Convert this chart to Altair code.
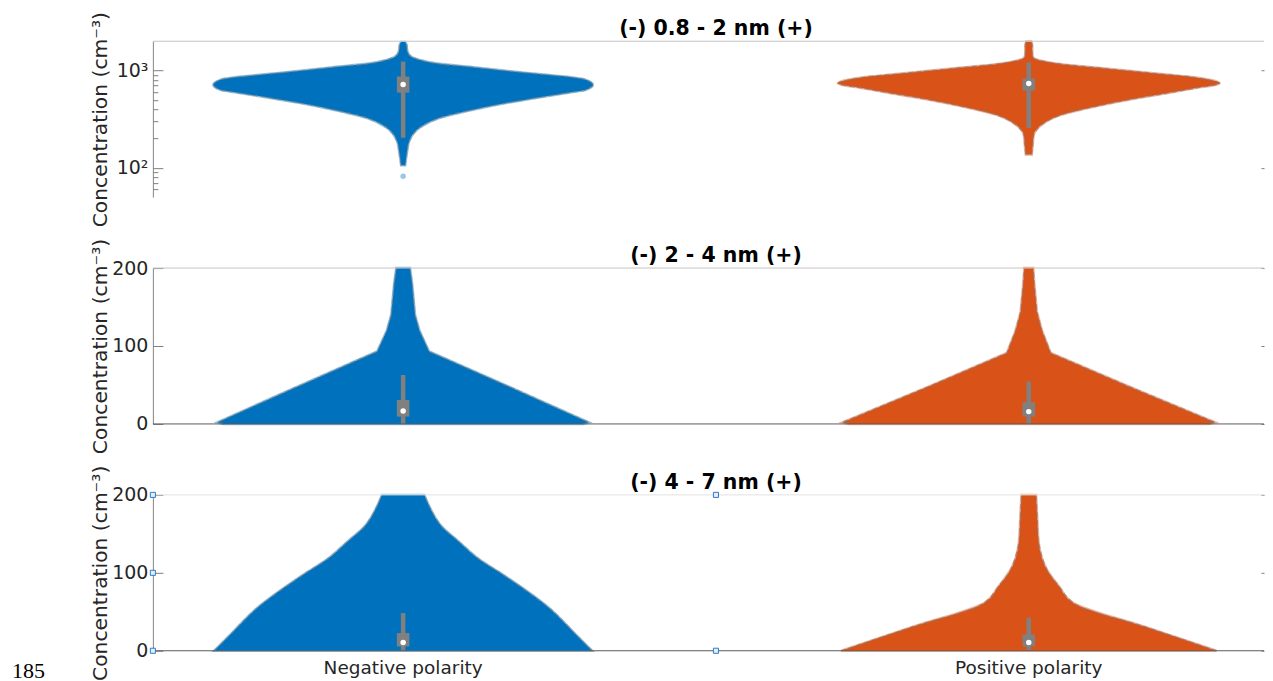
import altair as alt
import pandas as pd

# ---------------- data ----------------
GROUPS = ["Negative polarity", "Positive polarity"]
GROUP_POS = [1, 2]
GROUP_COLORS = ["#0072BD", "#D95319"]
PANEL_TITLES = ["(-) 0.8 - 2 nm (+)", "(-) 2 - 4 nm (+)", "(-) 4 - 7 nm (+)"]
Y_TITLE = "Concentration (cm⁻³)"
X_LIMITS = [0.6, 2.376]
PAGE_NUMBER = "185"

# violin outlines: concentration (cm-3) and half width (x-axis units)
p1_neg_conc = [106, 147, 187, 257, 325, 396, 463, 529, 601, 634, 714, 803, 848, 919, 993, 1083, 1171, 1287, 1448, 1630, 1833, 1968]
p1_neg_hw = [0.0032, 0.0064, 0.0096, 0.0256, 0.0575, 0.1118, 0.1645, 0.2172, 0.2715, 0.2922, 0.3034, 0.2922, 0.2715, 0.2172, 0.1645, 0.1118, 0.0575, 0.0256, 0.0096, 0.0064, 0.0056, 0.0032]
p1_pos_conc = [137, 173, 219, 278, 352, 428, 501, 573, 660, 739, 848, 919, 993, 1073, 1163, 1257, 1339, 1500, 1800, 1990]
p1_pos_hw = [0.0048, 0.0064, 0.0080, 0.0208, 0.0527, 0.1070, 0.1597, 0.2124, 0.2667, 0.3050, 0.2667, 0.2124, 0.1597, 0.1070, 0.0527, 0.0208, 0.0080, 0.0056, 0.0056, 0.0040]

p2_neg_conc = [0, 2, 44, 93, 120, 140, 180, 200]
p2_neg_hw = [0.287, 0.297, 0.180, 0.0415, 0.026, 0.019, 0.0144, 0.011]
p2_pos_conc = [0, 2, 48, 91, 120, 144, 180, 200]
p2_pos_hw = [0.287, 0.298, 0.160, 0.035, 0.021, 0.013, 0.0088, 0.0072]

p3_neg_conc = [0, 25, 53, 100, 117, 140, 160, 185, 200]
p3_neg_hw = [0.302, 0.271, 0.236, 0.155, 0.122, 0.089, 0.061, 0.042, 0.034]
p3_pos_conc = [0, 31, 61, 83, 104, 138, 170, 200]
p3_pos_hw = [0.300, 0.185, 0.072, 0.048, 0.029, 0.016, 0.0136, 0.0117]

# box statistics: [whisker low, q1, median, q3, whisker high]
p1_neg_box = [204, 593, 717, 867, 1236]
p1_pos_box = [258, 622, 735, 827, 1210]
p2_neg_box = [0, 9.4, 16.7, 30.8, 62.8]
p2_pos_box = [0, 9.4, 15.8, 27.8, 54.3]
p3_neg_box = [0, 5.5, 10.6, 22.7, 48.3]
p3_pos_box = [0, 5.5, 10.6, 20.9, 42.3]

# isolated points below the negative 0.8-2 nm violin
p1_neg_outliers = [117, 82]

# editing handles visible on the lowest axes (x, y)
handle_x = [0.6, 0.6, 0.6, 1.5, 1.5]
handle_y = [0, 100, 200, 0, 200]

# ---------------- styling ----------------
W, H = 1112, 156
FONT = "DejaVu Sans"
TXT = "#262626"
XSCALE = alt.Scale(domain=X_LIMITS, nice=False, zero=False)
COLOR = alt.Color("group:N", scale=alt.Scale(domain=GROUPS, range=GROUP_COLORS), legend=None)
STROKE = alt.Stroke("group:N", scale=alt.Scale(domain=GROUPS, range=GROUP_COLORS), legend=None)

PANELS = [
    dict(title=PANEL_TITLES[0], viol=[(p1_neg_conc, p1_neg_hw), (p1_pos_conc, p1_pos_hw)],
         box=[p1_neg_box, p1_pos_box], domain=[50, 2000], log=True, major=[100, 1000],
         minor=[60, 70, 80, 90, 200, 300, 400, 500, 600, 700, 800, 900],
         labelExpr="datum.value == 1000 ? '10³' : (datum.value == 100 ? '10²' : '')",
         xaxis=None, top_color="#c4c4c4", interp="monotone", line_interp="catmull-rom"),
    dict(title=PANEL_TITLES[1], viol=[(p2_neg_conc, p2_neg_hw), (p2_pos_conc, p2_pos_hw)],
         box=[p2_neg_box, p2_pos_box], domain=[0, 200], log=False, major=[0, 100, 200],
         minor=None, labelExpr=None, xaxis="line", top_color="#c4c4c4",
         interp="linear", line_interp="linear"),
    dict(title=PANEL_TITLES[2], viol=[(p3_neg_conc, p3_neg_hw), (p3_pos_conc, p3_pos_hw)],
         box=[p3_neg_box, p3_pos_box], domain=[0, 200], log=False, major=[0, 100, 200],
         minor=None, labelExpr=None, xaxis="labels", top_color="#e2e2e2",
         interp="monotone", line_interp="catmull-rom"),
]


def build_panel(i, p):
    if p["log"]:
        ysc = alt.Scale(type="log", domain=p["domain"], nice=False)
    else:
        ysc = alt.Scale(domain=p["domain"], nice=False, zero=False)

    rows = []
    for g, pos, (conc, hw) in zip(GROUPS, GROUP_POS, p["viol"]):
        for c, h in zip(conc, hw):
            rows.append({"group": g, "pos": pos, "conc": c, "hw": h})
    vdf = pd.DataFrame(rows)

    bdf = pd.DataFrame([
        {"group": g, "pos": pos, "lo": b[0], "q1": b[1], "med": b[2], "q3": b[3], "hi": b[4]}
        for g, pos, b in zip(GROUPS, GROUP_POS, p["box"])
    ])

    # main y axis (labels, title, left line)
    yaxis_kw = dict(orient="left", values=p["major"], ticks=False, tickSize=0, labelPadding=5,
                    domain=True, domainColor="#868686", domainWidth=1, grid=False,
                    title=Y_TITLE, titleX=-46, titleY=H / 2, titleAlign="center",
                    titleBaseline="alphabetic", labelFont=FONT, labelFontSize=19,
                    labelColor=TXT, titleFont=FONT, titleFontSize=20.3,
                    titleFontWeight="normal", titleColor=TXT)
    if p["labelExpr"]:
        yaxis_kw["labelExpr"] = p["labelExpr"]
    yaxis = alt.Axis(**yaxis_kw)

    base = alt.Chart(vdf).transform_calculate(
        xl="datum.pos - datum.hw", xr="datum.pos + datum.hw"
    )

    area = base.mark_area(orient="horizontal", interpolate=p["interp"], strokeWidth=2.5,
                          strokeOpacity=0.45, fillOpacity=1).encode(
        y=alt.Y("conc:Q", scale=ysc, axis=None),
        x=alt.X("xl:Q", scale=XSCALE, axis=None, stack=None),
        x2="xr:Q",
        color=COLOR,
        stroke=STROKE,
    )

    outline = base.transform_fold(["xl", "xr"], as_=["side", "xe"]).mark_line(
        color="#808080", strokeWidth=1.1, opacity=0.8, strokeDash=[5, 3],
        interpolate=p["line_interp"]).encode(
        x=alt.X("xe:Q", scale=XSCALE, axis=None),
        y=alt.Y("conc:Q", scale=ysc, axis=None),
        detail=["group:N", "side:N"],
        order=alt.Order("conc:Q"),
    )

    bbase = alt.Chart(bdf)
    whisker = bbase.mark_rule(color="#808080", strokeWidth=4.5).encode(
        x=alt.X("pos:Q", scale=XSCALE, axis=None),
        y=alt.Y("lo:Q", scale=ysc, axis=yaxis), y2="hi:Q")
    box = bbase.mark_rule(color="#808080", strokeWidth=12.5).encode(
        x=alt.X("pos:Q", scale=XSCALE, axis=None),
        y=alt.Y("q1:Q", scale=ysc, axis=None), y2="q3:Q")
    med = bbase.mark_circle(color="white", size=30, opacity=1).encode(
        x=alt.X("pos:Q", scale=XSCALE, axis=None),
        y=alt.Y("med:Q", scale=ysc, axis=None))

    top_df = pd.DataFrame({"conc": [p["domain"][1]]})
    top = alt.Chart(top_df).mark_rule(color=p["top_color"], strokeWidth=1).encode(
        y=alt.Y("conc:Q", scale=ysc, axis=None))

    tdf = pd.DataFrame({"x": [1.5], "conc": [p["domain"][1]], "t": [p["title"]]})
    title = alt.Chart(tdf).mark_text(font=FONT, fontSize=20.5, fontWeight="bold", color="black",
                                     baseline="alphabetic", align="center", dy=-6).encode(
        x=alt.X("x:Q", scale=XSCALE, axis=None),
        y=alt.Y("conc:Q", scale=ysc, axis=None),
        text="t:N")

    def tick_layer(values, size, orient, offset):
        return alt.Chart(bdf).mark_point(opacity=0).encode(
            x=alt.X("pos:Q", scale=XSCALE, axis=None),
            y=alt.Y("med:Q", scale=ysc, axis=alt.Axis(
                orient=orient, offset=offset, values=values, ticks=True, tickSize=size,
                tickColor="#808080", tickWidth=1, labels=False, domain=False, grid=False,
                title=None)))

    layers = [area, outline, whisker, box, med, top,
              tick_layer(p["major"], 10, "left", -10),
              tick_layer(p["major"], 3, "right", -3)]
    if p["minor"]:
        layers.append(tick_layer(p["minor"], 5, "left", -5))

    # bottom axis line (and category labels on the lowest panel)
    if p["xaxis"] is not None:
        bot_df = pd.DataFrame({"conc": [p["domain"][0]]})
        layers.append(alt.Chart(bot_df).mark_rule(color="#5a5a5a", strokeWidth=1).encode(
            y=alt.Y("conc:Q", scale=ysc, axis=None)))
    if p["xaxis"] == "labels":
        ldf = pd.DataFrame({"pos": GROUP_POS, "group": GROUPS, "conc": [p["domain"][0]] * 2})
        layers.append(alt.Chart(ldf).mark_text(font=FONT, fontSize=18.5, color=TXT,
                                               baseline="top", align="center", dy=8).encode(
            x=alt.X("pos:Q", scale=XSCALE, axis=None),
            y=alt.Y("conc:Q", scale=ysc, axis=None),
            text="group:N"))

    if i == 0:
        odf = pd.DataFrame({"group": [GROUPS[0]] * len(p1_neg_outliers),
                            "pos": [GROUP_POS[0]] * len(p1_neg_outliers),
                            "conc": p1_neg_outliers})
        layers.append(alt.Chart(odf).mark_circle(size=30, opacity=0.4).encode(
            x=alt.X("pos:Q", scale=XSCALE, axis=None),
            y=alt.Y("conc:Q", scale=ysc, axis=None),
            color=COLOR))
    if i == 2:
        hdf = pd.DataFrame({"x": handle_x, "conc": handle_y})
        layers.append(alt.Chart(hdf).mark_point(shape="square", size=26, fill="#e4eefa",
                                                fillOpacity=1, stroke="#2f7bc8",
                                                strokeWidth=1, opacity=1).encode(
            x=alt.X("x:Q", scale=XSCALE, axis=None),
            y=alt.Y("conc:Q", scale=ysc, axis=None)))
    layers.append(title)

    return alt.layer(*layers).resolve_axis(y="independent").properties(width=W, height=H)


panels = [build_panel(i, p) for i, p in enumerate(PANELS)]

chart = alt.vconcat(*panels, spacing=71, bounds="flush").properties(
    title=alt.TitleParams(PAGE_NUMBER, orient="bottom", anchor="start", frame="bounds",
                          font="Liberation Serif", fontSize=22, fontWeight="normal",
                          color="black", baseline="alphabetic", offset=0, dx=-79, dy=-2),
    padding={"left": 4, "top": 3, "right": 0, "bottom": 0},
    background="white",
).configure_view(stroke=None)

chart.save("out.html", embed_options={"renderer": "svg", "actions": False})
